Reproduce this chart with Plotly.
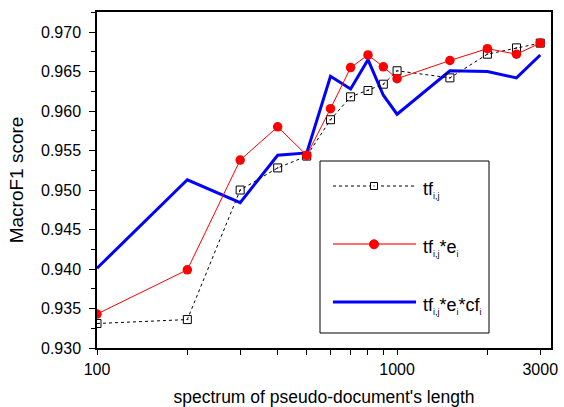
import plotly.graph_objects as go

x_len = [100, 200, 300, 400, 500, 600, 700, 800, 900, 1000, 1500, 2000, 2500, 3000]
tf = [0.9331, 0.9336, 0.9500, 0.9528, 0.9543, 0.9589, 0.9618, 0.9626, 0.9634, 0.9651, 0.9642, 0.9672, 0.9680, 0.9686]
tf_e = [0.9343, 0.9399, 0.9538, 0.9580, 0.9544, 0.9603, 0.9655, 0.9671, 0.9656, 0.9641, 0.9664, 0.9679, 0.9672, 0.9686]
tf_e_cf = [0.9401, 0.9513, 0.9484, 0.9544, 0.9547, 0.9644, 0.9628, 0.9665, 0.9620, 0.9596, 0.9651, 0.9650, 0.9642, 0.9671]

SUB = "<sub><span style='font-size:9px'>{}</span></sub>"
names = ["tf" + SUB.format("i,j"),
         "tf" + SUB.format("i,j") + "*e" + SUB.format("i"),
         "tf" + SUB.format("i,j") + "*e" + SUB.format("i") + "*cf" + SUB.format("i")]

x_tickvals = [100, 200, 300, 400, 500, 600, 700, 800, 900, 1000, 2000, 3000]
x_ticktext = ["100", "", "", "", "", "", "", "", "", "1000", "", "3000"]
y_tickvals = [0.930, 0.935, 0.940, 0.945, 0.950, 0.955, 0.960, 0.965, 0.970]

FONT = "Liberation Sans, Arial, sans-serif"

fig = go.Figure()
fig.add_trace(go.Scatter(x=x_len, y=tf_e_cf, mode="lines", name=names[2],
                         line=dict(color="#0000ff", width=3), showlegend=False))
fig.add_trace(go.Scatter(x=x_len, y=tf, mode="lines+markers", name=names[0],
                         line=dict(color="black", width=1, dash="dot"),
                         marker=dict(symbol="square-open-dot", size=8, color="black",
                                     line=dict(width=1, color="black")),
                         showlegend=False))
fig.add_trace(go.Scatter(x=x_len, y=tf_e, mode="lines+markers", name=names[1],
                         line=dict(color="#ff0000", width=1),
                         marker=dict(symbol="circle", size=9.5, color="#ff0000"),
                         showlegend=False))

L, R, T, B = 97, 13, 12, 59
W, H = 564, 407
pw, ph = W - L - R, H - T - B


def px(xp):
    return (xp - L) / pw


def py(yp):
    return (H - B - yp) / ph


shapes = []
annotations = []
# legend box
shapes.append(dict(type="rect", xref="paper", yref="paper",
                   x0=px(320), x1=px(489), y0=py(333), y1=py(161),
                   line=dict(color="black", width=1), fillcolor="white", layer="above"))
rows = [186, 244, 302]
styles = [dict(color="black", width=1, dash="dot"),
          dict(color="#ff7070", width=2),
          dict(color="#0000ff", width=3)]
for i, ry in enumerate(rows):
    shapes.append(dict(type="line", xref="paper", yref="paper",
                       x0=px(333), x1=px(416), y0=py(ry), y1=py(ry),
                       line=styles[i], layer="above"))
    annotations.append(dict(x=px(421), y=py(ry + 4), xref="paper", yref="paper",
                            text=names[i], showarrow=False, xanchor="left", yanchor="middle",
                            font=dict(family=FONT, size=18, color="black")))
# legend markers
shapes.append(dict(type="rect", xref="paper", yref="paper",
                   x0=px(370.5), x1=px(377.5), y0=py(189.5), y1=py(182.5),
                   line=dict(color="black", width=1), fillcolor="white", layer="above"))
shapes.append(dict(type="rect", xref="paper", yref="paper",
                   x0=px(373.5), x1=px(374.5), y0=py(186.5), y1=py(185.5),
                   line=dict(color="black", width=0), fillcolor="black", layer="above"))
shapes.append(dict(type="circle", xref="paper", yref="paper",
                   x0=px(369.5), x1=px(378.5), y0=py(248.8), y1=py(239.8),
                   line=dict(color="#ff0000", width=1), fillcolor="#ff0000", layer="above"))

fig.update_layout(
    width=W, height=H,
    margin=dict(l=L, r=R, t=T, b=B),
    paper_bgcolor="white", plot_bgcolor="white",
    font=dict(family=FONT, size=16, color="black"),
    shapes=shapes, annotations=annotations,
    xaxis=dict(type="log", range=[2, 3.513], automargin=False,
               tickvals=x_tickvals, ticktext=x_ticktext,
               ticks="outside", ticklen=5, tickwidth=1, tickcolor="black",
               ticklabelstandoff=1,
               showline=True, linecolor="black", linewidth=1.5, mirror=True,
               showgrid=False, zeroline=False,
               tickfont=dict(size=16),
               title=dict(text="spectrum of pseudo-document's length",
                          font=dict(size=17.5), standoff=30)),
    yaxis=dict(range=[0.930, 0.97254], automargin=False,
               tickvals=y_tickvals, tickformat=".3f",
               ticks="outside", ticklen=6, tickwidth=1, tickcolor="black",
               ticklabelstandoff=5,
               minor=dict(dtick=0.0025, ticks="outside", ticklen=4, tickcolor="black"),
               showline=True, linecolor="black", linewidth=1.5, mirror=True,
               showgrid=False, zeroline=False,
               tickfont=dict(size=16),
               title=dict(text="MacroF1 score", font=dict(size=19), standoff=12)),
)

fig.write_html("out.html")
